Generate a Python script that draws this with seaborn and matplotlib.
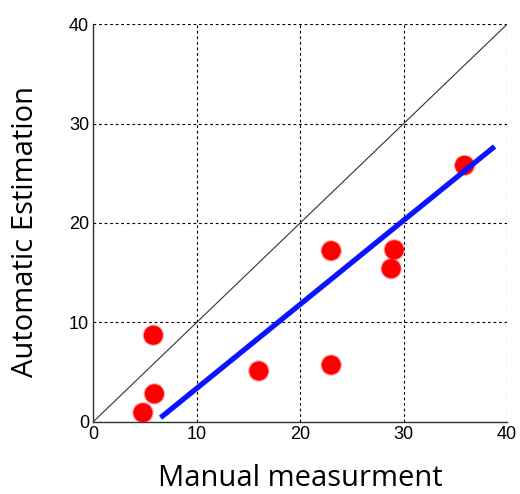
import pandas as pd
import matplotlib
matplotlib.use("Agg")
import matplotlib.pyplot as plt
import seaborn as sns

# values
manual = [4.8, 5.9, 5.8, 16.0, 23.0, 23.0, 29.1, 28.8, 35.9]
automatic = [0.9, 2.8, 8.7, 5.1, 17.2, 5.7, 17.3, 15.4, 25.8]
fit_x = [6.5, 38.8]
fit_y = [0.4, 27.7]
diag = [0, 40]
ticks = [0, 10, 20, 30, 40]

df = pd.DataFrame({"manual": manual, "automatic": automatic})

sns.set_style("white")
plt.rcParams["font.family"] = ["Liberation Sans", "DejaVu Sans"]

fig = plt.figure(figsize=(5.2, 4.94), dpi=100)
ax = fig.add_axes([0.1795, 0.1464, 0.7955, 0.8044])

sns.lineplot(x=diag, y=diag, ax=ax, color="#333333", linewidth=0.8, zorder=2)
# soft edge around the dots
sns.scatterplot(data=df, x="manual", y="automatic", ax=ax, color="red",
                s=240, alpha=0.3, edgecolor="none", zorder=3)
sns.scatterplot(data=df, x="manual", y="automatic", ax=ax, color="red",
                s=190, edgecolor="none", zorder=4)
sns.lineplot(x=fit_x, y=fit_y, ax=ax, color="#0a14ff", linewidth=3.8,
             zorder=5, solid_capstyle="butt")

ax.set_xlim(0, 40)
ax.set_ylim(0, 40)
ax.set_xticks(ticks)
ax.set_yticks(ticks)
ax.grid(True, color="black", linestyle=(0, (2.5, 2.5)), linewidth=0.8)
ax.set_axisbelow(True)
for side in ["top", "right"]:
    ax.spines[side].set_visible(False)
for side in ["left", "bottom"]:
    ax.spines[side].set_color("#333333")
    ax.spines[side].set_linewidth(1.0)
ax.tick_params(length=0, labelsize=13, colors="black", pad=3)

lab_font = ["Open Sans", "DejaVu Sans"]
ax.set_xlabel("Manual measurment", fontsize=21, family=lab_font, color="black", labelpad=15)
ax.set_ylabel("Automatic Estimation", fontsize=21, family=lab_font, color="black")
ax.yaxis.set_label_coords(-0.13, 0.478)

fig.savefig("out.png", dpi=100)
